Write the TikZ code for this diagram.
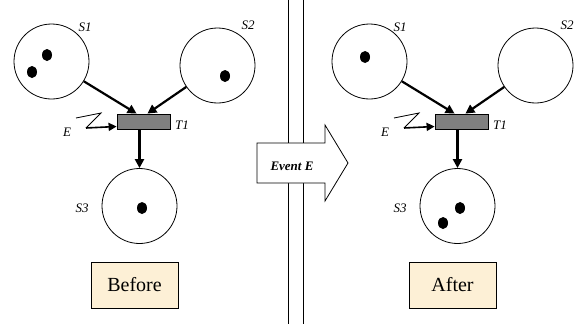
\documentclass[tikz,border=0pt]{standalone}
\usepackage{fontspec}
\setmainfont{Liberation Serif}
\usepackage{xcolor}
\usetikzlibrary{arrows.meta}
\definecolor{transgray}{RGB}{128,128,128}
\definecolor{notebg}{RGB}{253,240,214}
\tikzstyle{place} = [draw, circle, minimum size=75pt, inner sep=0pt, line width=0.8pt]
\tikzstyle{trans} = [draw, fill=transgray, rectangle, minimum width=53pt,
    minimum height=15pt, inner sep=0pt, line width=0.8pt]
\tikzstyle{lbl} = [font=\itshape\fontsize{13}{15}\selectfont, inner sep=0pt]
\tikzstyle{flow} = [line width=2.2pt, -{Triangle[length=9pt,width=9pt]}]
\tikzstyle{notebox} = [draw, fill=notebg, line width=0.8pt, minimum width=87pt,
    minimum height=46pt, font=\fontsize{20}{24}\selectfont]

\begin{document}
\begin{tikzpicture}[x=1pt,y=-1pt]
    \useasboundingbox (0,0) rectangle (575,324);
    % divider with the event arrow
    \draw[line width=0.8pt] (288,0) -- (288,324) (303,0) -- (303,324);
    \draw[fill=white, line width=0.8pt] (257,143) -- (325,143) -- (325,125) -- (348,163)
        -- (325,201) -- (325,183) -- (257,183) -- cycle;
    \node[font=\bfseries\itshape\fontsize{13}{15}\selectfont] (event) at (292,166) {Event E};

    % before
    \node[place] (S1) at (51.5,61.5) {};
    \node[place] (S2) at (217.5,65.5) {};
    \node[trans] (T1) at (143.5,121.5) {};
    \node[place] (S3) at (139.5,206) {};
    \node[lbl] (S1l) at (85,27) {S1};
    \node[lbl] (S2l) at (248,25) {S2};
    \node[lbl] (T1l) at (182,125) {T1};
    \node[lbl] (El) at (67,132) {E};
    \node[lbl] (S3l) at (82,208) {S3};
    \fill (47,55) ellipse [x radius=5pt, y radius=6pt];
    \fill (32,72) ellipse [x radius=5pt, y radius=6pt];
    \fill (225,76) ellipse [x radius=5pt, y radius=6pt];
    \fill (142,208) ellipse [x radius=5pt, y radius=6pt];
    \draw[flow] (S1) -- ([xshift=20pt]T1.north west);
    \draw[flow] (S2) -- ([xshift=-23pt]T1.north east);
    \draw[flow] (T1.south -| S3.north) -- (S3.north);
    \coordinate (E1) at (76,118);
    \coordinate (E2) at (101,113);
    \coordinate (E3) at (86,128);
    \draw[line width=0.8pt] (E1) -- (E2) -- (E3);
    \draw[line width=1.6pt, -{Triangle[length=8pt,width=8pt]}] (E3) -- ([yshift=-5pt]T1.west);
    \node[notebox] (before) at (134.5,285) {Before};

    % after
    \begin{scope}[xshift=318pt]
    \node[place] (aS1) at (51.5,61.5) {};
    \node[place] (aS2) at (217.5,65.5) {};
    \node[trans] (aT1) at (143.5,121.5) {};
    \node[place] (aS3) at (139.5,206) {};
    \node[lbl] (aS1l) at (82,27) {S1};
    \node[lbl] (aS2l) at (249,25) {S2};
    \node[lbl] (aT1l) at (182,125) {T1};
    \node[lbl] (aEl) at (67,132) {E};
    \node[lbl] (aS3l) at (82,208) {S3};
    \fill (47,57) ellipse [x radius=5pt, y radius=6pt];
    \fill (142,208) ellipse [x radius=5pt, y radius=6pt];
    \fill (125,223) ellipse [x radius=5pt, y radius=6pt];
    \draw[flow] (aS1) -- ([xshift=20pt]aT1.north west);
    \draw[flow] (aS2) -- ([xshift=-23pt]aT1.north east);
    \draw[flow] (aT1.south -| aS3.north) -- (aS3.north);
    \coordinate (aE1) at (76,118);
    \coordinate (aE2) at (101,113);
    \coordinate (aE3) at (86,128);
    \draw[line width=0.8pt] (aE1) -- (aE2) -- (aE3);
    \draw[line width=1.6pt, -{Triangle[length=8pt,width=8pt]}] (aE3) -- ([yshift=-5pt]aT1.west);
    \node[notebox] (after) at (134.5,285) {After};
    \end{scope}
\end{tikzpicture}
\end{document}
